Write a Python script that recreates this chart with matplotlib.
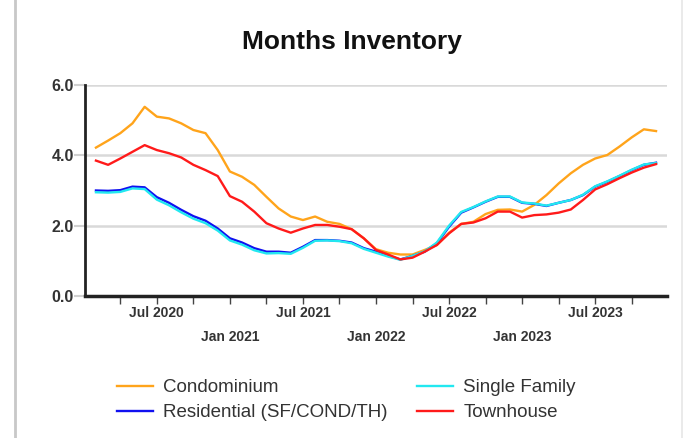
import matplotlib
matplotlib.use("Agg")
import matplotlib.pyplot as plt
from matplotlib.lines import Line2D

plt.rcParams['font.family'] = ['Liberation Sans', 'DejaVu Sans']

# Months: Feb 2020 .. Dec 2023 (index 1 = Feb 2020, Jan 2020 = 0)
months = list(range(1, 48))

condo = [4.22, 4.42, 4.63, 4.91, 5.38, 5.10, 5.05, 4.91, 4.72, 4.63, 4.15,
         3.54, 3.39, 3.16, 2.82, 2.49, 2.26, 2.16, 2.26, 2.11, 2.05, 1.90, 1.64,
         1.33, 1.23, 1.18, 1.18, 1.31, 1.45, 1.80, 2.05, 2.11, 2.33, 2.45, 2.46,
         2.40, 2.59, 2.87, 3.20, 3.49, 3.73, 3.91, 4.01, 4.25, 4.51, 4.74, 4.69]

residential = [3.00, 2.99, 3.01, 3.11, 3.09, 2.81, 2.65, 2.45, 2.27, 2.14, 1.92,
               1.64, 1.52, 1.36, 1.26, 1.26, 1.23, 1.40, 1.59, 1.59, 1.57, 1.52, 1.36,
               1.26, 1.14, 1.04, 1.14, 1.26, 1.50, 1.97, 2.37, 2.52, 2.68, 2.82, 2.82,
               2.65, 2.62, 2.56, 2.65, 2.73, 2.87, 3.11, 3.25, 3.41, 3.58, 3.73, 3.79]

single_family = [2.95, 2.94, 2.96, 3.06, 3.04, 2.74, 2.58, 2.38, 2.20, 2.07, 1.86,
                 1.58, 1.46, 1.30, 1.21, 1.22, 1.20, 1.37, 1.57, 1.58, 1.56, 1.50, 1.34,
                 1.23, 1.12, 1.03, 1.14, 1.27, 1.52, 2.00, 2.39, 2.53, 2.69, 2.83, 2.83,
                 2.66, 2.63, 2.57, 2.65, 2.73, 2.88, 3.12, 3.26, 3.42, 3.59, 3.74, 3.78]

townhouse = [3.85, 3.73, 3.91, 4.10, 4.29, 4.15, 4.06, 3.94, 3.73, 3.58, 3.41,
             2.84, 2.68, 2.40, 2.07, 1.92, 1.80, 1.92, 2.02, 2.02, 1.97, 1.90, 1.64,
             1.31, 1.18, 1.04, 1.09, 1.26, 1.45, 1.78, 2.05, 2.09, 2.21, 2.40, 2.40,
             2.23, 2.30, 2.32, 2.37, 2.46, 2.73, 3.03, 3.18, 3.35, 3.51, 3.65, 3.75]

jul_ticks = [6, 18, 30, 42]
jul_labels = ["Jul 2020", "Jul 2021", "Jul 2022", "Jul 2023"]
jan_ticks = [12, 24, 36]
jan_labels = ["Jan 2021", "Jan 2022", "Jan 2023"]
quarter_ticks = list(range(3, 46, 3))
y_ticks = [0, 2, 4, 6]
y_labels = ["0.0", "2.0", "4.0", "6.0"]

fig = plt.figure(figsize=(6.85, 4.38), dpi=100)
fig.patch.set_facecolor("white")
ax = fig.add_axes([85/685, 1 - 296/438, (667 - 85)/685, (296 - 85)/438])

ax.plot(months, condo, color="#FFA41B", lw=1.7, label="Condominium", zorder=3)
ax.plot(months, residential, color="#1010F0", lw=1.7, label="Residential (SF/COND/TH)", zorder=3)
ax.plot(months, single_family, color="#22E8F0", lw=1.7, label="Single Family", zorder=3)
ax.plot(months, townhouse, color="#FF1A1A", lw=1.7, label="Townhouse", zorder=3)

ax.set_xlim(0.1, 47.9)
ax.set_ylim(0, 6)
ax.set_yticks(y_ticks)
ax.set_yticklabels(y_labels, fontsize=11.5, fontweight="bold", color="#333333")
ax.tick_params(axis="y", length=8, width=1.5, color="#d0d0d0", pad=0)
ax.grid(axis="y", color="#d9d9d9", lw=1.8, zorder=0)

ax.set_xticks(quarter_ticks)
ax.set_xticklabels([""] * len(quarter_ticks))
ax.tick_params(axis="x", length=6, width=1.0, color="#444444")
for t, lab in zip(jul_ticks, jul_labels):
    ax.text(t, -0.082, lab, transform=ax.get_xaxis_transform(), ha="center", va="center",
            fontsize=10, fontweight="bold", color="#333333")
for t, lab in zip(jan_ticks, jan_labels):
    ax.text(t, -0.196, lab, transform=ax.get_xaxis_transform(), ha="center", va="center",
            fontsize=10, fontweight="bold", color="#333333")

for s in ["top", "right"]:
    ax.spines[s].set_visible(False)
ax.spines["left"].set_linewidth(2.0)
ax.spines["left"].set_color("#222222")
ax.spines["bottom"].set_linewidth(2.5)
ax.spines["bottom"].set_color("#222222")

fig.text(352/685, 1 - 42/438, "Months Inventory", ha="center", va="center",
         fontsize=19, fontweight="bold", color="#111111")

handles, labels = ax.get_legend_handles_labels()
leg = fig.legend(handles, labels, ncol=2, loc="upper left",
                 bbox_to_anchor=(117/685, 1 - 379/438), frameon=False,
                 fontsize=13.5, handlelength=1.9, handletextpad=0.55,
                 columnspacing=1.6, labelspacing=0.42, borderpad=0, borderaxespad=0)
for txt in leg.get_texts():
    txt.set_color("#333333")

fig.add_artist(Line2D([15/685, 15/685], [0, 1], transform=fig.transFigure,
                      color="#c8c8c8", lw=2))
fig.add_artist(Line2D([682/685, 682/685], [0, 1], transform=fig.transFigure,
                      color="#e6e6e6", lw=1.2))

fig.savefig("out.png", dpi=100, facecolor="white")
